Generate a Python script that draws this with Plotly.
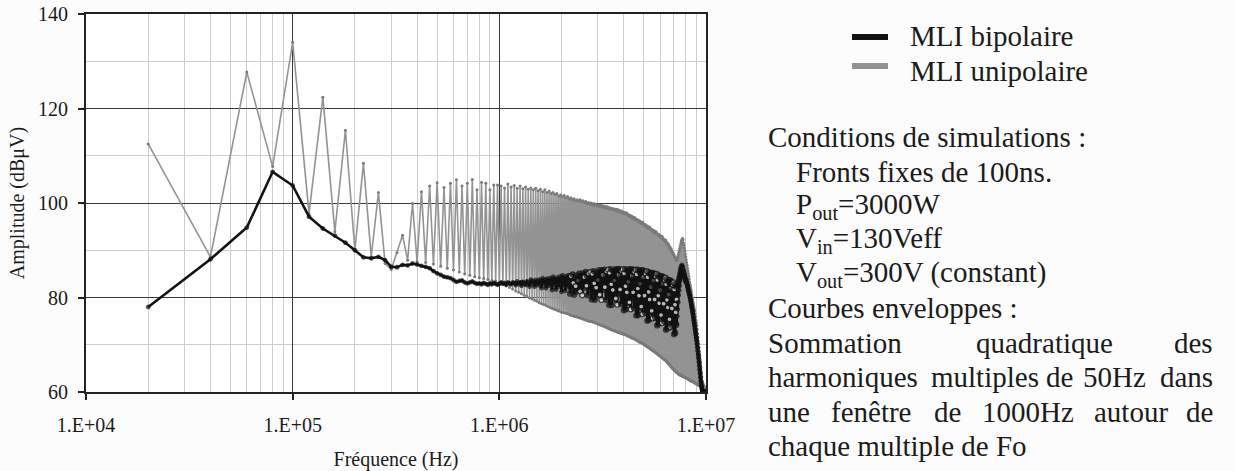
import plotly.graph_objects as go

# ---------------- data ----------------
fo_hz = 20000                        # Fo : harmonic spacing
harmonic_rank = list(range(1, 501))  # multiples of Fo : 20 kHz ... 10 MHz

# MLI unipolaire (grey) - one value per multiple of Fo, 10 per row
unipolar_dbuv = [
    112.5, 88.6, 127.7, 107.7, 134.0, 97.8, 122.4, 93.9, 115.4, 90.0,
    108.4, 88.6, 102.2, 87.2, 85.9, 89.5, 93.2, 87.9, 99.9, 87.6,
    102.4, 87.4, 103.6, 87.1, 104.3, 86.6, 103.3, 86.2, 104.2, 85.8,
    104.9, 85.4, 103.6, 85.0, 104.2, 84.7, 105.0, 84.4, 102.8, 84.2,
    104.4, 84.0, 104.2, 83.8, 102.8, 83.6, 103.8, 83.5, 103.8, 83.2,
    103.6, 82.8, 103.2, 82.5, 104.0, 82.1, 103.4, 81.8, 103.7, 81.4,
    103.1, 81.1, 103.6, 80.8, 103.0, 80.5, 103.4, 80.2, 102.9, 79.9,
    103.2, 79.7, 102.8, 79.4, 103.1, 79.2, 102.6, 78.9, 102.9, 78.7,
    102.4, 78.5, 102.8, 78.3, 102.2, 78.1, 102.5, 77.9, 102.0, 77.7,
    102.2, 77.5, 101.8, 77.4, 102.0, 77.2, 101.5, 77.1, 101.7, 76.9,
    101.3, 76.8, 101.6, 76.7, 101.1, 76.6, 101.4, 76.5, 100.9, 76.3,
    101.1, 76.2, 100.7, 76.1, 100.9, 76.0, 100.5, 75.9, 100.7, 75.8,
    100.4, 75.7, 100.7, 75.6, 100.3, 75.5, 100.5, 75.4, 100.1, 75.3,
    100.3, 75.2, 99.9, 75.1, 100.1, 75.0, 99.8, 74.9, 100.0, 74.9,
    99.6, 74.8, 99.9, 74.7, 99.5, 74.6, 99.8, 74.5, 99.4, 74.4,
    99.6, 74.3, 99.3, 74.2, 99.5, 74.1, 99.2, 74.0, 99.4, 73.9,
    99.0, 73.8, 99.3, 73.7, 98.9, 73.6, 99.2, 73.5, 98.8, 73.4,
    99.0, 73.3, 98.7, 73.2, 98.9, 73.1, 98.6, 73.0, 98.8, 72.9,
    98.4, 72.9, 98.7, 72.8, 98.3, 72.7, 98.6, 72.6, 98.2, 72.6,
    98.4, 72.5, 98.1, 72.4, 98.3, 72.4, 97.9, 72.3, 98.1, 72.2,
    97.7, 72.2, 98.0, 72.1, 97.6, 72.0, 97.9, 71.9, 97.5, 71.8,
    97.5, 71.8, 97.2, 71.7, 97.4, 71.6, 97.0, 71.5, 97.2, 71.4,
    96.7, 71.4, 97.0, 71.3, 96.6, 71.2, 96.9, 71.1, 96.5, 71.0,
    96.5, 70.9, 96.2, 70.8, 96.4, 70.7, 96.0, 70.6, 96.2, 70.5,
    95.7, 70.5, 96.0, 70.4, 95.6, 70.3, 95.9, 70.2, 95.5, 70.1,
    95.5, 70.0, 95.2, 69.9, 95.4, 69.8, 95.0, 69.7, 95.2, 69.6,
    94.7, 69.5, 95.0, 69.4, 94.6, 69.3, 94.9, 69.2, 94.5, 69.1,
    94.5, 69.0, 94.2, 68.9, 94.4, 68.8, 94.0, 68.7, 94.2, 68.6,
    93.7, 68.5, 94.0, 68.4, 93.6, 68.3, 93.9, 68.2, 93.5, 68.1,
    93.5, 68.0, 93.2, 67.9, 93.4, 67.8, 93.0, 67.7, 93.2, 67.6,
    92.7, 67.5, 93.0, 67.4, 92.6, 67.3, 92.9, 67.2, 92.5, 67.1,
    92.4, 67.0, 92.1, 66.9, 92.3, 66.8, 91.9, 66.7, 92.1, 66.6,
    91.7, 66.5, 91.4, 66.4, 91.6, 66.2, 91.2, 66.1, 91.3, 66.0,
    90.9, 65.9, 90.5, 65.7, 90.7, 65.6, 90.2, 65.4, 90.3, 65.3,
    89.9, 65.2, 89.5, 65.0, 89.6, 64.9, 89.1, 64.8, 89.2, 64.7,
    88.9, 64.6, 88.5, 64.5, 88.4, 64.4, 88.0, 64.3, 87.8, 64.2,
    87.9, 64.1, 88.3, 64.0, 88.6, 63.9, 89.0, 63.8, 89.4, 63.7,
    89.8, 63.7, 90.3, 63.6, 90.8, 63.6, 91.3, 63.5, 91.8, 63.5,
    92.1, 63.4, 92.4, 63.4, 92.5, 63.3, 92.2, 63.3, 91.6, 63.2,
    91.1, 63.2, 90.5, 63.1, 89.9, 63.1, 89.2, 63.0, 88.6, 63.0,
    88.0, 62.9, 87.4, 62.9, 86.8, 62.8, 86.2, 62.8, 85.6, 62.7,
    85.1, 62.7, 84.5, 62.6, 83.9, 62.6, 83.3, 62.5, 82.7, 62.5,
    82.3, 62.4, 81.7, 62.4, 81.2, 62.3, 80.6, 62.3, 80.0, 62.2,
    79.6, 62.2, 79.1, 62.1, 78.6, 62.1, 78.1, 62.0, 77.6, 62.0,
    77.2, 61.9, 76.5, 61.9, 75.9, 61.8, 75.2, 61.8, 74.6, 61.7,
    74.1, 61.7, 73.3, 61.6, 72.4, 61.6, 71.6, 61.5, 70.8, 61.5,
    70.2, 61.4, 69.4, 61.4, 68.5, 61.3, 67.7, 61.3, 66.8, 61.2,
    66.2, 61.2, 65.2, 61.1, 64.2, 61.0, 63.3, 61.0, 62.3, 60.9,
    62.0, 60.9, 61.8, 60.8, 61.6, 60.8, 61.4, 60.7, 61.2, 60.7,
    61.1, 60.6, 61.0, 60.6, 60.9, 60.5, 60.8, 60.5, 60.7, 60.4,
]

# MLI bipolaire (black) - one value per multiple of Fo, 10 per row
bipolar_dbuv = [
    78.0, 88.1, 94.8, 106.6, 103.7, 97.1, 94.6, 93.1, 91.6, 90.0,
    88.5, 88.3, 88.6, 87.9, 86.5, 86.4, 86.9, 86.8, 87.2, 87.0,
    86.7, 86.5, 86.2, 85.6, 85.1, 84.8, 84.4, 84.3, 84.1, 83.7,
    83.3, 83.5, 83.6, 83.2, 83.0, 83.2, 83.4, 83.1, 82.9, 83.0,
    82.8, 83.1, 82.9, 82.7, 83.0, 82.8, 83.1, 82.9, 82.7, 82.9,
    83.2, 82.9, 83.1, 82.7, 83.2, 83.0, 82.8, 83.2, 83.1, 82.6,
    83.4, 82.9, 83.2, 82.5, 83.3, 83.0, 82.7, 83.4, 83.1, 82.3,
    83.8, 82.9, 83.5, 82.3, 83.7, 83.2, 82.6, 83.8, 83.4, 82.0,
    84.1, 82.9, 83.7, 82.0, 84.0, 83.2, 82.5, 84.1, 83.5, 81.6,
    84.4, 82.8, 83.9, 81.7, 84.2, 83.3, 82.3, 84.4, 83.6, 81.2,
    84.7, 82.8, 84.1, 81.4, 84.5, 83.3, 82.2, 84.7, 83.7, 80.8,
    84.5, 81.8, 84.9, 83.1, 80.6, 84.0, 82.4, 84.7, 81.3, 83.6,
    83.6, 85.1, 81.3, 84.6, 82.8, 80.5, 85.1, 82.0, 84.3, 83.1,
    85.4, 82.5, 84.5, 80.5, 85.1, 83.4, 81.6, 85.4, 84.0, 79.6,
    85.0, 81.1, 85.6, 83.0, 79.5, 84.3, 82.1, 85.3, 80.5, 83.7,
    83.7, 85.8, 80.6, 85.1, 82.7, 79.5, 85.8, 81.6, 84.8, 83.0,
    85.9, 82.2, 84.8, 79.5, 85.5, 83.3, 81.0, 85.9, 84.0, 78.4,
    85.2, 80.4, 86.0, 82.8, 78.4, 84.4, 81.6, 85.6, 79.6, 83.6,
    83.5, 86.0, 79.8, 85.2, 82.3, 78.5, 86.0, 81.0, 84.8, 82.7,
    86.0, 81.7, 84.7, 78.6, 85.6, 83.0, 80.3, 86.0, 83.8, 77.3,
    85.1, 79.7, 86.0, 82.4, 77.5, 84.2, 81.1, 85.6, 78.8, 83.3,
    83.2, 86.0, 79.0, 85.1, 81.8, 77.5, 86.0, 80.4, 84.6, 82.2,
    85.9, 81.1, 84.4, 77.7, 85.4, 82.5, 79.6, 85.9, 83.5, 76.2,
    84.9, 78.8, 85.9, 81.9, 76.3, 83.9, 80.4, 85.4, 77.8, 82.9,
    82.7, 85.8, 78.1, 84.8, 81.2, 76.5, 85.8, 79.6, 84.3, 81.7,
    85.6, 80.4, 84.0, 76.7, 85.1, 82.0, 78.8, 85.6, 83.0, 75.1,
    84.3, 78.0, 85.4, 81.2, 75.3, 83.3, 79.6, 84.9, 76.9, 82.2,
    82.0, 85.2, 77.2, 84.1, 80.4, 75.6, 85.2, 78.8, 83.6, 80.9,
    85.0, 79.6, 83.4, 75.7, 84.5, 81.2, 77.9, 85.0, 82.3, 74.1,
    83.7, 77.1, 84.8, 80.4, 74.4, 82.6, 78.8, 84.3, 76.0, 81.5,
    81.2, 84.5, 76.3, 83.4, 79.6, 74.6, 84.5, 77.9, 82.9, 80.1,
    84.2, 78.7, 82.6, 74.9, 83.7, 80.4, 77.1, 84.2, 81.5, 73.2,
    82.8, 76.2, 83.9, 79.5, 73.5, 81.7, 77.9, 83.4, 75.1, 80.6,
    80.3, 83.6, 75.4, 82.5, 78.7, 73.7, 83.6, 77.0, 82.0, 79.2,
    83.2, 77.7, 81.6, 73.9, 82.7, 79.4, 76.1, 83.2, 80.5, 72.2,
    81.7, 75.2, 82.8, 78.5, 72.5, 80.6, 76.9, 82.3, 74.2, 79.6,
    74.5, 82.5, 76.0, 83.0, 77.5, 83.5, 79.0, 84.0, 80.5, 84.5,
    81.5, 85.0, 82.5, 85.5, 83.5, 86.0, 84.0, 86.3, 84.5, 86.6,
    85.0, 86.9, 85.5, 86.7, 85.6, 86.4, 85.4, 86.0, 85.1, 85.6,
    84.8, 85.2, 84.4, 84.8, 84.0, 84.4, 83.6, 84.0, 83.2, 83.6,
    83.8, 83.2, 83.4, 82.8, 83.0, 82.4, 82.6, 82.0, 82.2, 81.6,
    81.8, 81.2, 81.4, 80.8, 81.0, 80.4, 80.6, 80.0, 80.2, 79.6,
    79.6, 79.0, 79.1, 78.5, 78.6, 78.0, 78.1, 77.5, 77.6, 77.0,
    77.1, 76.4, 76.5, 75.8, 75.9, 75.2, 75.3, 74.6, 74.7, 74.0,
    74.0, 73.4, 73.4, 72.8, 72.8, 72.2, 72.2, 71.6, 71.6, 71.0,
    70.9, 70.2, 70.2, 69.5, 69.4, 68.8, 68.7, 68.0, 67.9, 67.3,
    67.1, 66.4, 66.3, 65.6, 65.5, 64.8, 64.6, 64.0, 63.8, 63.2,
    63.0, 62.4, 62.2, 61.7, 61.5, 61.1, 60.9, 60.6, 60.5, 60.3,
    60.3, 60.2, 60.2, 60.1, 60.1, 60.1, 60.0, 60.0, 60.0, 60.0,
    60.0, 60.0, 60.0, 60.0, 60.0, 60.0, 60.0, 60.0, 60.0, 60.0,
]

series_names = ["MLI bipolaire", "MLI unipolaire"]
x_tick_values = [1e4, 1e5, 1e6, 1e7]
x_tick_labels = ["1.E+04", "1.E+05", "1.E+06", "1.E+07"]
y_tick_values = [60, 80, 100, 120, 140]
y_minor_values = [70, 90, 110, 130]

notes = [
    ("Conditions de simulations :", 766, 137),
    ("Fronts fixes de 100ns.", 794, 172),
    ("P<sub>out</sub>=3000W", 794, 206),
    ("V<sub>in</sub>=130Veff", 794, 240),
    ("V<sub>out</sub>=300V (constant)", 794, 274),
    ("Courbes enveloppes :", 766, 308),
    ("chaque multiple de Fo", 766, 446),
]
justified_words = [
    ("Sommation", 766, 343, "left"), ("quadratique", 974, 343, "left"), ("des", 1215, 343, "right"),
    ("harmoniques", 766, 377, "left"), ("multiples", 929, 377, "left"), ("de", 1044, 377, "left"),
    ("50Hz", 1081, 377, "left"), ("dans", 1215, 377, "right"),
    ("une", 766, 412, "left"), ("fenêtre", 829, 412, "left"), ("de", 932, 412, "left"),
    ("1000Hz", 980, 412, "left"), ("autour", 1092, 412, "left"), ("de", 1215, 412, "right"),
]

assert len(unipolar_dbuv) == len(harmonic_rank) == len(bipolar_dbuv)

# ---------------- figure ----------------
FIG_W, FIG_H = 1235, 471
PLOT_L, PLOT_T, PLOT_W, PLOT_H = 86, 14, 620, 378   # plot box in page pixels
L, T = PLOT_L, PLOT_T
R = FIG_W - L - PLOT_W
B = FIG_H - T - PLOT_H


def px(x):
    return (x - PLOT_L) / PLOT_W


def py(y):
    return 1 - (y - PLOT_T) / PLOT_H


freq_hz = [k * fo_hz for k in harmonic_rank]
band = [2.2e6 <= f <= 7.2e6 for f in freq_hz]
black_fill = ["#ffffff" if (b and k % 3 == 0) else "#121212" for k, b in zip(harmonic_rank, band)]
black_size = [5 if b else 3.5 for b in band]

GREY = "#939393"
BLACK = "#121212"
TEXT = "#1b1b1b"
FONT = "Liberation Serif"

fig = go.Figure()
fig.add_trace(go.Scatter(
    x=freq_hz, y=unipolar_dbuv, mode="lines+markers", name=series_names[1],
    line=dict(color=GREY, width=1.6),
    marker=dict(size=3, color="#7a7a7a"),
    showlegend=False,
))
fig.add_trace(go.Scatter(
    x=freq_hz, y=bipolar_dbuv, mode="lines+markers", name=series_names[0],
    line=dict(color=BLACK, width=2.6),
    marker=dict(size=black_size, color=black_fill, line=dict(width=1.3, color=BLACK)),
    showlegend=False,
))

minor_x = [m * 10 ** d for d in (4, 5, 6) for m in range(2, 10)]

fig.update_layout(
    width=FIG_W, height=FIG_H,
    margin=dict(l=L, r=R, t=T, b=B, pad=0, autoexpand=False),
    paper_bgcolor="#fcfcfc", plot_bgcolor="#ffffff",
    showlegend=False,
    font=dict(family=FONT, color=TEXT, size=20),
    xaxis=dict(
        type="log", range=[4, 7], automargin=False,
        tickmode="array", tickvals=x_tick_values, ticktext=x_tick_labels,
        ticks="outside", ticklen=6, tickwidth=1.5, tickcolor="#222222",
        ticklabelstandoff=8, ticklabeloverflow="allow",
        showline=True, linecolor="#222222", linewidth=2, mirror=True,
        showgrid=True, gridcolor="#3a3a3a", gridwidth=1.4, zeroline=False,
        tickfont=dict(size=20, family=FONT, color=TEXT),
        title=dict(text="Fréquence (Hz)", font=dict(size=20, family=FONT, color=TEXT), standoff=18),
        minor=dict(tickmode="array", tickvals=minor_x, showgrid=True,
                   gridcolor="#cdcdcd", gridwidth=1, ticks=""),
    ),
    yaxis=dict(
        range=[60, 140], automargin=False,
        tickmode="array", tickvals=y_tick_values,
        ticks="outside", ticklen=6, tickwidth=1.5, tickcolor="#222222",
        ticklabelstandoff=6, ticklabeloverflow="allow",
        showline=True, linecolor="#222222", linewidth=2, mirror=True,
        showgrid=True, gridcolor="#3a3a3a", gridwidth=1.4, zeroline=False,
        tickfont=dict(size=20, family=FONT, color=TEXT),
        title=dict(text="Amplitude (dBμV)", font=dict(size=20, family=FONT, color=TEXT), standoff=8),
        minor=dict(tickmode="array", tickvals=y_minor_values, showgrid=True,
                   gridcolor="#cdcdcd", gridwidth=1, ticks=""),
    ),
)

# legend samples
for name, color, ysample, ytext in [(series_names[0], BLACK, 37, 36), (series_names[1], GREY, 66, 71)]:
    fig.add_shape(type="line", xref="paper", yref="paper",
                  x0=px(852), x1=px(888), y0=py(ysample), y1=py(ysample),
                  line=dict(color=color, width=6))
    fig.add_annotation(text=name, xref="paper", yref="paper", x=px(908), y=py(ytext),
                       xanchor="left", yanchor="middle", showarrow=False,
                       font=dict(size=29, family=FONT, color=TEXT))

for text, x, y in notes:
    fig.add_annotation(text=text, xref="paper", yref="paper", x=px(x), y=py(y),
                       xanchor="left", yanchor="middle", showarrow=False,
                       font=dict(size=29, family=FONT, color=TEXT))
for text, x, y, anchor in justified_words:
    fig.add_annotation(text=text, xref="paper", yref="paper", x=px(x), y=py(y),
                       xanchor=anchor, yanchor="middle", showarrow=False,
                       font=dict(size=29, family=FONT, color=TEXT))

# remove the default 8px page margin so the figure fills the window exactly
fig.write_html("out.html", config={"displayModeBar": False},
               post_script="document.body.style.margin='0';")
